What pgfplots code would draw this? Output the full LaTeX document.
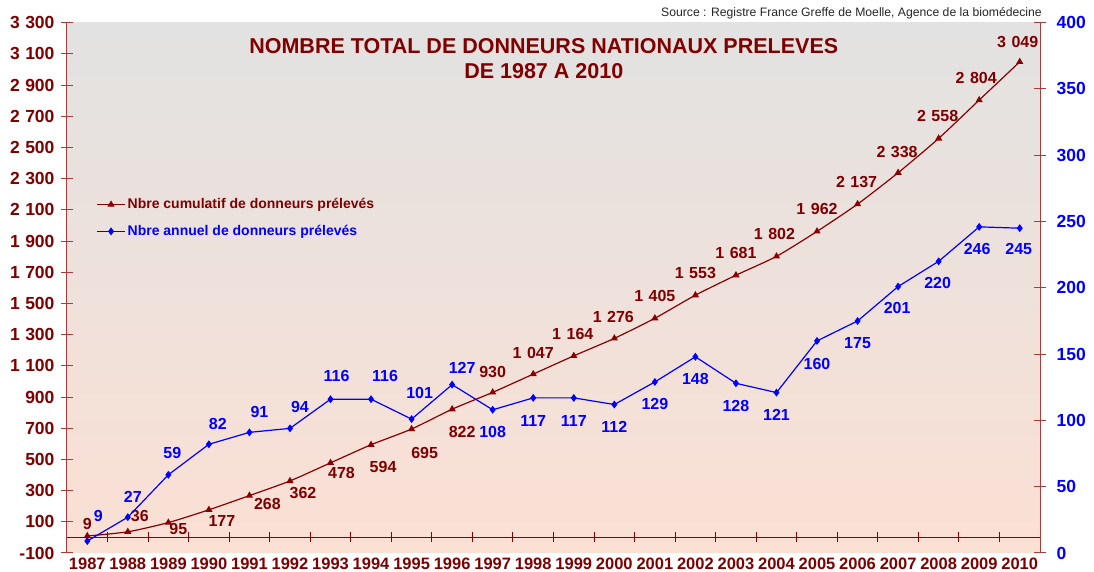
\documentclass[border=0pt]{standalone}
\usepackage{fontspec}
\setmainfont{Liberation Sans}
\usepackage{pgfplots}
\pgfplotsset{compat=1.18}
\usepackage{pgfplotstable}
\definecolor{dred}{RGB}{139,0,0}
\definecolor{tred}{RGB}{128,0,0}
\definecolor{axred}{RGB}{170,60,60}
\definecolor{bgtop}{RGB}{226,226,226}
\definecolor{bgbot}{RGB}{251,224,212}

\pgfplotstableread{
x y dx dy
0 9 0 12
1 36 12 16
2 95 10 -6
3 177 13 -11
4 268 18 -8
5 362 13 -12
6 478 11 -10
7 594 12 -22
8 695 13 -24
9 822 10 -23
10 930 0 20
11 1047 0 21
12 1164 -1 22
13 1276 -1 21
14 1405 0 22
15 1553 0 22
16 1681 0 22
17 1802 -2 22
18 1962 0 22
19 2137 -1 22
20 2338 -1 21
21 2558 -1 22
22 2804 -3 22
23 3049 -2 20
}\cumul

\pgfplotstableread{
x y dx dy
0 9 11 25
1 27 5 20
2 59 4 22
3 82 9 20
4 91 10 20
5 94 10 21
6 116 6 23
7 116 14 23
8 101 8 26
9 127 10 17
10 108 0 -22
11 117 0 -23
12 117 0 -23
13 112 0 -22
14 129 0 -22
15 148 0 -22
16 128 0 -23
17 121 0 -22
18 160 0 -23
19 175 0 -22
20 201 -1 -21
21 220 -1 -22
22 246 -2 -22
23 245 -1 -21
}\annual

\pgfplotsset{/pgf/number format/assume math mode=true,
  /pgf/number format/1000 sep={\hspace{5.5pt}}}

\begin{document}
\begin{tikzpicture}
\useasboundingbox (-67pt,-19pt) rectangle (1027pt,553pt);
\fill[white] (-67pt,-19pt) rectangle (1027pt,553pt);
\begin{axis}[
  scale only axis, width=973pt, height=530.3pt,
  xmin=-0.5, xmax=23.5, ymin=-100, ymax=3300,
  axis y line*=left, axis x line*=bottom,
  x axis line style={draw=none},
  y axis line style={draw=axred, line width=1pt},
  xtick={0,...,23},
  xticklabels={1987,1988,1989,1990,1991,1992,1993,1994,1995,1996,1997,1998,1999,2000,2001,2002,2003,2004,2005,2006,2007,2008,2009,2010},
  xtick style={draw=none},
  ytick={-100,100,...,3300},
  ytick style={draw=axred, line width=1pt},
  tick align=center, major tick length=12pt,
  xticklabel style={font=\fontsize{16.5}{19}\selectfont\bfseries, text=tred, yshift=5pt},
  yticklabel style={font=\fontsize{17.5}{20}\selectfont\bfseries, text=tred, xshift=-3pt},
  axis background/.style={shade, top color=bgtop, bottom color=bgbot},
  clip=false,
  legend style={at={(0.027,0.676)}, anchor=north west, draw=none, fill=none,
    font=\fontsize{14}{16}\selectfont\bfseries, row sep=11pt},
  legend cell align=left,
  legend image code/.code={\draw[mark repeat=2,mark phase=2] plot coordinates {(0pt,0pt) (14pt,0pt) (28pt,0pt)};},
]
\draw[dred, line width=1pt] (axis cs:-0.5,0) -- (axis cs:23.5,0);
\pgfplotsinvokeforeach{0.5,1.5,...,23.5}{
  \draw[dred, line width=1pt] ([yshift=-5pt]axis cs:#1,0) -- ([yshift=5pt]axis cs:#1,0);
}
\addplot[dred, line width=1.2pt, smooth, tension=0.4, mark=triangle*, mark size=3pt,
  nodes near coords,
  visualization depends on={\thisrow{dx}\as\dx},
  visualization depends on={\thisrow{dy}\as\dy},
  every node near coord/.append style={anchor=center, xshift=\dx pt, yshift=\dy pt,
    font=\fontsize{16}{19}\selectfont\bfseries, text=tred, inner sep=0pt}]
  table[x=x,y=y] {\cumul};
\addlegendentry{\textcolor{tred}{Nbre cumulatif de donneurs prélevés}}
\addlegendimage{blue, line width=1.2pt, mark=diamond*, mark size=3pt}
\addlegendentry{\textcolor{blue}{Nbre annuel de donneurs prélevés}}
\node[anchor=base, font=\fontsize{21.5}{24}\selectfont\bfseries, text=tred] at (rel axis cs:0.49,1) [yshift=-31.3pt] {NOMBRE TOTAL DE DONNEURS NATIONAUX PRELEVES};
\node[anchor=base, font=\fontsize{21.5}{24}\selectfont\bfseries, text=tred] at (rel axis cs:0.49,1) [yshift=-56.3pt] {DE 1987 A 2010};
\node[anchor=base east, inner sep=0pt, font=\fontsize{12.2}{14}\selectfont, text=black!85] at (rel axis cs:1,1) [xshift=2pt, yshift=6pt] {Source : Registre France Greffe de Moelle, Agence de la biomédecine};
\end{axis}
\begin{axis}[
  scale only axis, width=973pt, height=530.3pt,
  xmin=-0.5, xmax=23.5, ymin=0, ymax=400,
  axis y line*=right, axis x line=none,
  ytick={0,50,...,400},
  tick align=center, major tick length=12pt,
  y axis line style={draw=axred, line width=1pt},
  ytick style={draw=axred, line width=1pt},
  yticklabel style={font=\fontsize{17.5}{20}\selectfont\bfseries, text=blue, xshift=7pt},
  clip=false,
]
\addplot[blue, line width=1.2pt, mark=diamond*, mark size=3pt,
  nodes near coords,
  visualization depends on={\thisrow{dx}\as\dx},
  visualization depends on={\thisrow{dy}\as\dy},
  every node near coord/.append style={anchor=center, xshift=\dx pt, yshift=\dy pt,
    font=\fontsize{16}{19}\selectfont\bfseries, text=blue, inner sep=0pt}]
  table[x=x,y=y] {\annual};
\end{axis}
\end{tikzpicture}
\end{document}
